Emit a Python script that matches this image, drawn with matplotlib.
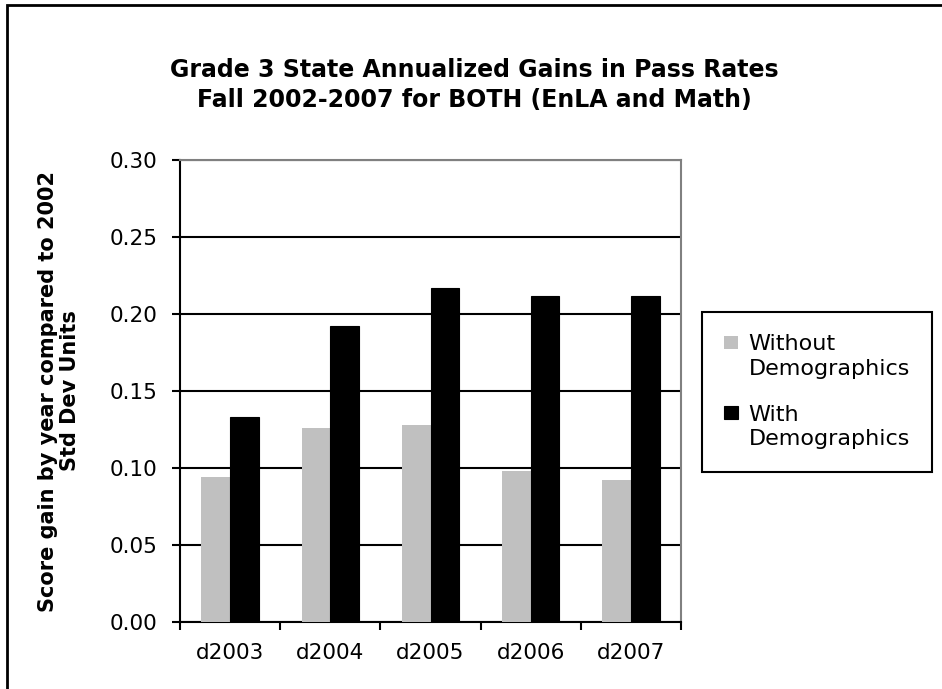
"""Grade 3 annualized gains in pass rates, with vs without demographics."""
import matplotlib

matplotlib.use("Agg")
import matplotlib.pyplot as plt
import numpy as np
from matplotlib.container import BarContainer
from matplotlib.legend_handler import HandlerPatch, update_from_first_child
from matplotlib.patches import Rectangle

categories = ["d2003", "d2004", "d2005", "d2006", "d2007"]
without_demo = [0.094, 0.126, 0.128, 0.098, 0.092]
with_demo = [0.133, 0.192, 0.217, 0.212, 0.212]
y_ticks = [0.00, 0.05, 0.10, 0.15, 0.20, 0.25, 0.30]

plt.rcParams["font.family"] = ["DejaVu Sans"]

fig = plt.figure(figsize=(9.42, 6.89), dpi=100)
ax = fig.add_axes([180 / 942, 1 - 622 / 689, 501 / 942, 462 / 689])

# outer chart border (runs off the bottom/right of the image)
fig.patches.append(Rectangle((7 / 942, -0.05), 1.2, 1 - 5 / 689 + 0.05,
                             transform=fig.transFigure, fill=False,
                             edgecolor="black", linewidth=2))

x = np.arange(len(categories))
w = 1 / 3.5
ax.bar(x - w / 2, without_demo, w, color="#c0c0c0", label="Without\nDemographics", zorder=3)
ax.bar(x + w / 2, with_demo, w, color="black", edgecolor="black", linewidth=0.8,
       label="With\nDemographics", zorder=3)

ax.set_ylim(0, 0.30)
ax.set_xlim(-0.5, len(categories) - 0.5)
ax.set_yticks(y_ticks)
ax.set_yticklabels([f"{v:.2f}" for v in y_ticks])
ax.yaxis.grid(True, color="black", linewidth=1.5, zorder=0)
ax.set_axisbelow(True)

ax.set_xticks(np.arange(-0.5, len(categories)), labels=[])
ax.set_xticks(x, labels=categories, minor=True)
ax.tick_params(axis="x", which="minor", length=0, pad=15, labelsize=15.5)
ax.tick_params(axis="x", which="major", length=6, width=1.5)
ax.tick_params(axis="y", length=6, width=1.5, pad=10, labelsize=15.5)

for side in ("top", "right"):
    ax.spines[side].set_color("#808080")
    ax.spines[side].set_linewidth(1.5)
for side in ("left", "bottom"):
    ax.spines[side].set_linewidth(1.5)

ax.set_ylabel("Score gain by year compared to 2002\nStd Dev Units", fontsize=15,
              fontweight="bold", linespacing=1.1)
ax.yaxis.set_label_coords(-0.2, 0.5)

fig.text(474 / 942, 1 - 85 / 689,
         "Grade 3 State Annualized Gains in Pass Rates\nFall 2002-2007 for BOTH (EnLA and Math)",
         ha="center", va="center", fontsize=17, fontweight="bold", linespacing=1.3)


def top_square(legend, orig_handle, xdescent, ydescent, width, height, fontsize):
    # square marker lined up with the first line of a two-line label
    s = 0.6 * fontsize
    return Rectangle((-xdescent, -ydescent + height / 2 - s / 2 + 0.65 * fontsize), s, s)


leg = fig.legend(loc="upper left", bbox_to_anchor=(702 / 942, 1 - 312 / 689),
                 borderaxespad=0, fontsize=16, frameon=True, fancybox=False,
                 framealpha=1, edgecolor="black", handlelength=0.6, handleheight=0.7,
                 handletextpad=0.5, labelspacing=1.15, borderpad=1.0,
                 handler_map={BarContainer: HandlerPatch(patch_func=top_square,
                                                         update_func=update_from_first_child)})
leg.get_frame().set_linewidth(1.5)
for t in leg.get_texts():
    t.set_linespacing(1.3)

fig.savefig("out.png", dpi=100)
